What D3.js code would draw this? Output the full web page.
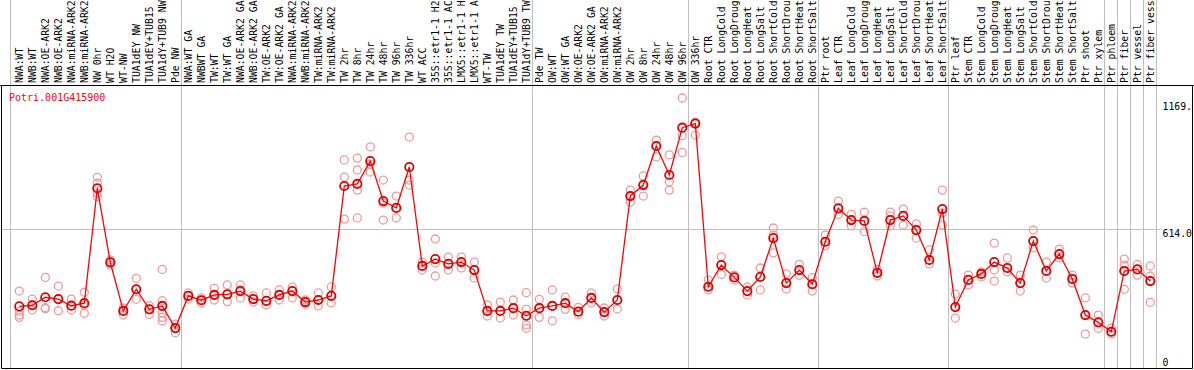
<!DOCTYPE html>
<html><head><meta charset="utf-8">
<script src="https://cdn.jsdelivr.net/npm/d3@7"></script>
<style>body{margin:0;background:#fff}svg{display:block}text{font-family:"DejaVu Sans Mono",monospace;font-size:10px}</style>
</head><body>
<script>
const geneId = "Potri.001G415900";
const labels = ["NWA:WT","NWB:WT","NWA:OE-ARK2","NWB:OE-ARK2","NWA:miRNA-ARK2","NWB:miRNA-ARK2","NW 0hr","WT H2O","WT-NW","TUA1dEY NW","TUA1dEY+TUB15 NW","TUA1dY+TUB9 NW","Pde NW",
"NWA:WT GA","NWBWT GA","TW:WT","TW:WT GA","NWA:OE-ARK2 GA","NWB:OE-ARK2 GA","TW:OE-ARK2","TW:OE-ARK2 GA","NWA:miRNA-ARK2 GA","NWB:miRNA-ARK2 GA","TW:miRNA-ARK2","TW:miRNA-ARK2","TW 2hr","TW 8hr","TW 24hr","TW 48hr","TW 96hr","TW 336hr","WT ACC","35S::etr1-1 H2O","35S::etr1-1 ACC","LMX5::etr1-1 H2O","LMX5::etr1-1 ACC","WT-TW","TUA1dEY TW","TUA1dEY+TUB15 TW","TUA1dY+TUB9 TW","Pde TW",
"OW:WT","OW:WT GA","OW:OE-ARK2","OW:OE-ARK2 GA","OW:miRNA-ARK2","OW:miRNA-ARK2 GA","OW 2hr","OW 8hr","OW 24hr","OW 48hr","OW 96hr","OW 336hr",
"Root CTR","Root LongCold","Root LongDrought","Root LongHeat","Root LongSalt","Root ShortCold","Root ShortDrought","Root ShortHeat","Root ShortSalt","Ptr root",
"Leaf CTR","Leaf LongCold","Leaf LongDrought","Leaf LongHeat","Leaf LongSalt","Leaf ShortCold","Leaf ShortDrought","Leaf ShortHeat","Leaf ShortSalt","Ptr leaf",
"Stem CTR","Stem LongCold","Stem LongDrought","Stem LongHeat","Stem LongSalt","Stem ShortCold","Stem ShortDrought","Stem ShortHeat","Stem ShortSalt","Ptr shoot",
"Ptr xylem","Ptr phloem","Ptr fiber","Ptr vessel","Ptr fiber vessel"];
const means = [274,279,314,306,277,288,791,467,254,349,261,276,179,
320,301,324,327,341,306,298,324,341,293,302,320,801,810,910,735,705,884,451,481,460,468,433,254,254,266,233,266,
276,288,251,311,249,302,757,805,976,849,1056,1074,
360,455,401,341,403,573,376,433,371,557,
703,652,648,421,652,670,608,477,700,271,
390,416,468,442,376,560,429,503,394,236,
204,163,429,436,385];
const reps = [[341,252,236,226],[306,258,280],[401,268,264],[363,255,306],[306,258,277],[336,244,279],[839,813,769,754],[477,467,455],[267,254,236],[397,349,305],[277,261,239],[436,299,273,246,226,211],[196,178,159],
[333,320,306],[311,301,289],[353,324,302],[368,327,295],[368,346,311],[320,306,293],[333,298,280],[346,324,302],[359,341,311],[302,293,284],[333,302,276],[359,320,289],[915,840,656],[923,871,783,661],[972,897,862],[827,726,652],[757,705,661],[1015,827,805],[468,451,433],[569,464,407],[490,460,433],[490,468,442],[468,433,398],[280,254,232],[293,254,223],[302,266,236],[334,261,193,178],[305,266,226],
[346,276,211],[315,288,261],[270,251,239],[333,311,289],[267,249,232],[350,302,263],[783,757,731],[845,810,757],[1002,976,928],[937,820,783],[1186,1021,948],[1080,1074,1024],
[390,360,346],[491,455,414],[411,401,390],[359,341,324],[442,403,346],[617,586,508],[416,376,350],[458,433,411],[400,371,341],[586,557,540],
[735,703,677],[677,652,627],[686,648,601],[436,421,407],[687,670,626],[700,670,630],[635,608,573],[521,477,460],[783,683,630],[328,271,223],
[411,390,368],[425,416,403],[551,433,385],[486,442,425],[411,376,341],[608,560,530],[468,429,398],[525,503,486],[411,394,376],[311,236,153],
[236,204,178],[179,163,153],[481,455,429,349],[458,436,411],[451,407,385,292]];
const groupEnds = [12,39,51,61,71,83,84,85,86,87];
const tickValues = [1169,614,0];
const tickLabels = ["1169.","614.0","0"];
const maxLabelChars = 14;

const W = 1194, H = 370;
const svg = d3.select("body").append("svg").attr("width",W).attr("height",H);
const x = d3.scaleBand().domain(d3.range(labels.length)).range([12.8, 12.8 + 13*labels.length]);
const cx = i => x(i) + x.bandwidth()/2;
const y = d3.scaleLinear().domain([0,1169]).range([369,101.9]);
const fTop = 85.5, fBottom = 368.5, fLeft = 1.5, fRight = 1192.5;

// vertical grid lines
const vlines = [x(0) - 2.5].concat(groupEnds.map(i => x(i) + x.bandwidth() - 1));
svg.selectAll("line.v").data(vlines).enter().append("line")
  .attr("x1", d => Math.round(d)+0.5).attr("x2", d => Math.round(d)+0.5)
  .attr("y1", 0).attr("y2", fBottom).attr("stroke","#c0c0c0").attr("stroke-width",1);
// horizontal grid at 614
svg.append("line").attr("x1",fLeft).attr("x2",1160)
  .attr("y1",Math.round(y(614))+0.5).attr("y2",Math.round(y(614))+0.5)
  .attr("stroke","#c0c0c0");

// frame
svg.append("line").attr("x1",0).attr("x2",W).attr("y1",fTop).attr("y2",fTop).attr("stroke","#000");
svg.append("line").attr("x1",fLeft).attr("x2",fRight).attr("y1",fBottom).attr("y2",fBottom).attr("stroke","#000");
svg.append("line").attr("x1",fLeft).attr("x2",fLeft).attr("y1",fTop).attr("y2",fBottom).attr("stroke","#000");
svg.append("line").attr("x1",fRight).attr("x2",fRight).attr("y1",fTop).attr("y2",fBottom).attr("stroke","#000");

// column labels (truncated to the space above the frame, as in the original)
svg.selectAll("text.lab").data(labels).enter().append("text")
  .attr("transform",(d,i)=>`translate(${cx(i)},83) rotate(-90)`)
  .attr("dy","0.35em").attr("fill","#000").style("font-size","9.8px")
  .text(d=>d.length > maxLabelChars ? d.slice(0,maxLabelChars) : d)
  .append("title").text(d=>d);

// tick labels
svg.selectAll("text.tick").data(tickValues).enter().append("text")
  .attr("x",1162.5).attr("y",(d,i)=> i===2 ? y(d)-3.5 : y(d)+8)
  .attr("fill","#000").style("font-size","9.8px").text((d,i)=>tickLabels[i]);

// gene id
svg.append("text").attr("x",9).attr("y",100.5).attr("fill","#ff0000").text(geneId);

// replicates
const repPts = [];
reps.forEach((r,i)=>r.forEach(v=>repPts.push([i,v])));
svg.selectAll("circle.rep").data(repPts).enter().append("circle")
  .attr("cx",d=>cx(d[0])).attr("cy",d=>y(d[1])).attr("r",4)
  .attr("fill","none").attr("stroke","#f09a9a").attr("stroke-width",1.3);

// mean line
svg.append("path").datum(means)
  .attr("d", d3.line().x((d,i)=>cx(i)).y(d=>y(d)))
  .attr("fill","none").attr("stroke","#ff0000").attr("stroke-width",1.3);

svg.selectAll("circle.mean").data(means).enter().append("circle")
  .attr("cx",(d,i)=>cx(i)).attr("cy",d=>y(d)).attr("r",4.2)
  .attr("fill","none").attr("stroke","#e00000").attr("stroke-width",1.8);
</script>
</body></html>
